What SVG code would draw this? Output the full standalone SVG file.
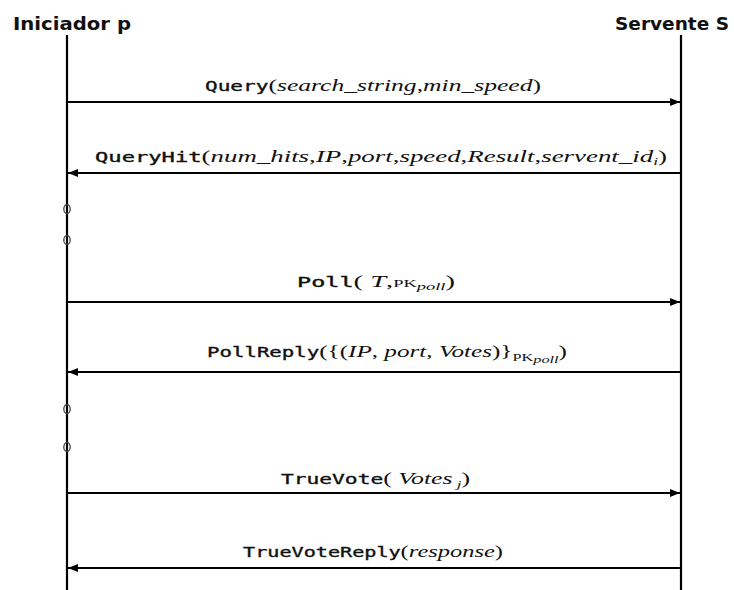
<svg xmlns="http://www.w3.org/2000/svg" width="734" height="590" viewBox="0 0 734 590">
  <style>
    .actor { font-family: "DejaVu Sans", Verdana, sans-serif; font-weight: bold; font-size: 17px; fill: #111; }
    .life { stroke: #000; stroke-width: 2.2; fill: none; }
    .msg { stroke: #000; stroke-width: 2.2; fill: none; }
    .gap { fill: none; stroke: #444; stroke-width: 1.3; }
    .lbl { font-family: "Liberation Serif", "Times New Roman", serif; font-size: 17px; font-style: italic; fill: #111; }
    .cmd { font-family: "DejaVu Sans Mono", "Liberation Mono", monospace; font-style: normal; font-weight: normal; font-size: 14px; stroke: #111; stroke-width: 0.35; }
    .rm { font-style: normal; }
    .sub { font-size: 11px; }
  </style>
  <defs>
    <marker id="arrow" viewBox="0 0 10 8" refX="10" refY="4" markerWidth="10" markerHeight="8" markerUnits="userSpaceOnUse" orient="auto">
      <path d="M0,0 L10,4 L0,8 Z" fill="#000"/>
    </marker>
  </defs>

  <!-- participants -->
  <g id="iniciador">
    <text class="actor" x="13" y="30" textLength="118" lengthAdjust="spacingAndGlyphs">Iniciador p</text>
    <line class="life" x1="67" y1="35" x2="67" y2="590"/>
    <ellipse class="gap" cx="67" cy="209" rx="3.2" ry="4.5"/>
    <ellipse class="gap" cx="67" cy="240" rx="3.2" ry="4.5"/>
    <ellipse class="gap" cx="67" cy="409" rx="3.2" ry="4.5"/>
    <ellipse class="gap" cx="67" cy="447" rx="3.2" ry="4.5"/>
  </g>
  <g id="servente">
    <text class="actor" x="615" y="30" textLength="114" lengthAdjust="spacingAndGlyphs">Servente S</text>
    <line class="life" x1="681" y1="35" x2="681" y2="590"/>
  </g>

  <!-- messages -->
  <g id="connectors">
    <line class="msg" x1="67" y1="102" x2="680" y2="102" marker-end="url(#arrow)"/>
    <line class="msg" x1="681" y1="173" x2="68" y2="173" marker-end="url(#arrow)"/>
    <line class="msg" x1="67" y1="302" x2="680" y2="302" marker-end="url(#arrow)"/>
    <line class="msg" x1="681" y1="372" x2="68" y2="372" marker-end="url(#arrow)"/>
    <line class="msg" x1="67" y1="493" x2="680" y2="493" marker-end="url(#arrow)"/>
    <line class="msg" x1="681" y1="568" x2="68" y2="568" marker-end="url(#arrow)"/>
  </g>

  <!-- message labels -->
  <g id="labels">
    <text class="lbl" x="205" y="91" textLength="336" lengthAdjust="spacingAndGlyphs"><tspan class="cmd">Query</tspan><tspan class="rm">(</tspan>search_string<tspan class="rm">,</tspan>min_speed<tspan class="rm">)</tspan></text>
    <text class="lbl" x="95" y="162" textLength="572" lengthAdjust="spacingAndGlyphs"><tspan class="cmd">QueryHit</tspan><tspan class="rm">(</tspan>num_hits<tspan class="rm">,</tspan>IP<tspan class="rm">,</tspan>port<tspan class="rm">,</tspan>speed<tspan class="rm">,</tspan>Result<tspan class="rm">,</tspan>servent_id<tspan class="sub" dy="3">i</tspan><tspan class="rm" dy="-3">)</tspan></text>
    <text class="lbl" x="297" y="287" textLength="158" lengthAdjust="spacingAndGlyphs"><tspan class="cmd">Poll</tspan><tspan class="rm">( </tspan>T<tspan class="rm">,</tspan><tspan class="rm sub">PK</tspan><tspan class="sub" dy="3">poll</tspan><tspan class="rm" dy="-3">)</tspan></text>
    <text class="lbl" x="207" y="357" textLength="360" lengthAdjust="spacingAndGlyphs"><tspan class="cmd">PollReply</tspan><tspan class="rm">({(</tspan>IP<tspan class="rm">, </tspan>port<tspan class="rm">, </tspan>Votes<tspan class="rm">)}</tspan><tspan class="rm sub" dy="4">PK</tspan><tspan class="sub" dy="2">poll</tspan><tspan class="rm" dy="-6">)</tspan></text>
    <text class="lbl" x="281" y="484" textLength="189" lengthAdjust="spacingAndGlyphs"><tspan class="cmd">TrueVote</tspan><tspan class="rm">( </tspan>Votes<tspan class="sub" dy="4"> j</tspan><tspan class="rm" dy="-4">)</tspan></text>
    <text class="lbl" x="243" y="557" textLength="260" lengthAdjust="spacingAndGlyphs"><tspan class="cmd">TrueVoteReply</tspan><tspan class="rm">(</tspan>response<tspan class="rm">)</tspan></text>
  </g>
</svg>
